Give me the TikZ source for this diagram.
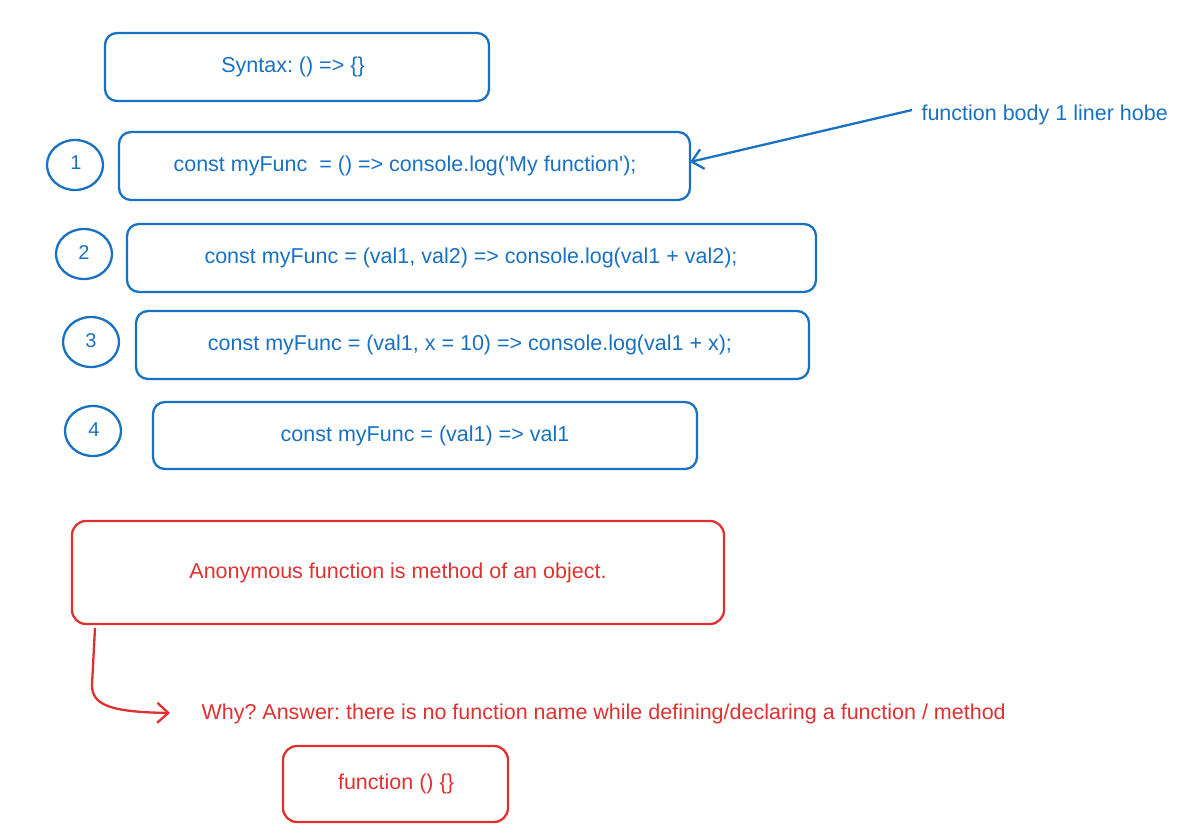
\documentclass[tikz,border=0pt]{standalone}
\usepackage{fontspec}
\setmainfont{Liberation Sans}[Ligatures=TeXOff]
\frenchspacing
\usetikzlibrary{arrows.meta}
\definecolor{xblue}{HTML}{1971C2}
\definecolor{xred}{HTML}{E03131}
\begin{document}
\frenchspacing
\begin{tikzpicture}[x=1pt,y=-1pt,
  bbox/.style={draw=xblue,line width=2.3pt,rounded corners=12pt},
  rbox/.style={draw=xred,line width=2.3pt,rounded corners=14pt},
  btext/.style={text=xblue,font=\fontsize{21.5}{24}\selectfont\frenchspacing},
  rtext/.style={text=xred,font=\fontsize{21.5}{24}\selectfont\frenchspacing},
  ctext/.style={text=xblue,font=\fontsize{20}{23}\selectfont},
  circ/.style={draw=xblue,line width=2.3pt},
  barb/.style={-{Straight Barb[length=11pt,width=20pt]}},
]
\useasboundingbox (0,0) rectangle (1187,830);
% boxes
\draw[bbox] (105,33) rectangle (489,101);
\node[btext] (syn) at (293,67) {Syntax: () => \{\}};

\draw[bbox] (119,132) rectangle (690,200);
\coordinate (b1e) at (690,162);
\node[btext] (t1) at (405,166) {const myFunc\ \ = () => console.log('My function');};

\draw[bbox] (127,224) rectangle (816,292);
\node[btext] (t2) at (471,258) {const myFunc = (val1, val2) => console.log(val1 + val2);};

\draw[bbox] (136,311) rectangle (809,379);
\node[btext] (t3) at (470,345) {const myFunc = (val1, x = 10) => console.log(val1 + x);};

\draw[bbox] (153,402) rectangle (697,469);
\node[btext] (t4) at (425,436) {const myFunc = (val1) => val1};

% circles
\draw[circ] (75,165) ellipse (28 and 25);
\node[ctext] (c1) at (76,163) {1};
\draw[circ] (84,254) ellipse (28 and 25);
\node[ctext] (c2) at (84,253) {2};
\draw[circ] (91,342) ellipse (28 and 25);
\node[ctext] (c3) at (91,341) {3};
\draw[circ] (93,431) ellipse (28 and 25);
\node[ctext] (c4) at (94,430) {4};

% annotation
\node[btext,anchor=west] (note) at (918,115) {function body 1 liner hobe};
\coordinate (ns) at (912,110);
\draw[xblue,line width=2.3pt,barb] (ns) -- (b1e);

% red
\draw[rbox] (72,521) rectangle (724,624);
\node[rtext] (anon) at (398,573) {Anonymous function is method of an object.};
\coordinate (rs) at (95,628);
\coordinate (re) at (170,713);
\draw[xred,line width=2.3pt,barb] (rs) -- (92,685) .. controls (92,705) and (110,712) .. (re);
\node[rtext,anchor=west] (why) at (198,714) {Why? Answer: there is no function name while defining/declaring a function / method};

\draw[rbox] (283,746) rectangle (508,822);
\node[rtext] (fn) at (396,784) {function () \{\}};
\end{tikzpicture}
\end{document}
